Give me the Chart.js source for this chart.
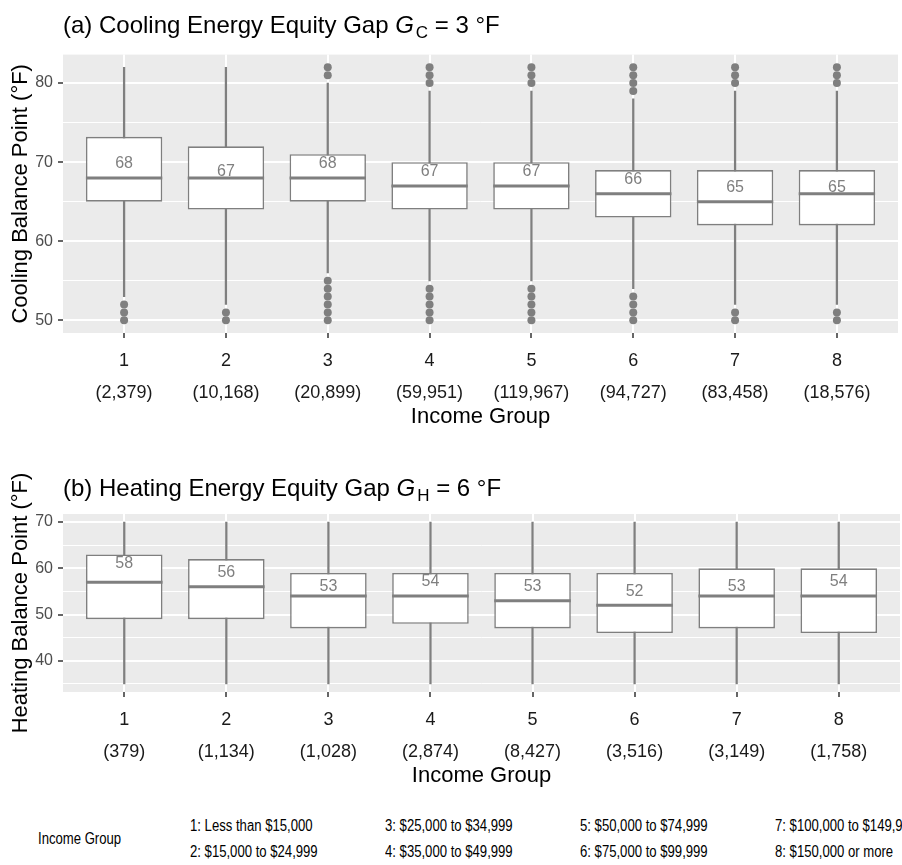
<!DOCTYPE html>
<html>
<head>
<meta charset="utf-8">
<script src="https://cdn.jsdelivr.net/npm/chart.js@4.4.1/dist/chart.umd.min.js"></script>
<style>
  html, body { margin: 0; padding: 0; background: #fff; }
  body { width: 902px; height: 865px; position: relative; overflow: hidden; font-family: "Liberation Sans", Arial, sans-serif; }
  canvas { position: absolute; left: 0; }
  .title { position: absolute; left: 63px; font-size: 24px; line-height: 28px; color: #000; white-space: nowrap; z-index: 2; }
  .title .sub { font-size: 17px; position: relative; top: 5px; margin-left: 2px; }
  .lg { position: absolute; font-size: 16px; line-height: 18px; color: #000; white-space: nowrap; transform: scaleX(0.82); transform-origin: 0 50%; }
</style>
</head>
<body>
<canvas id="cooling" width="902" height="390" style="top:40px"></canvas>
<canvas id="heating" width="902" height="339" style="top:450px"></canvas>
<div class="title" style="top:11px">(a) Cooling Energy Equity Gap <i>G</i><span class="sub">C</span> = 3 °F</div>
<div class="title" style="top:474px">(b) Heating Energy Equity Gap <i>G</i><span class="sub">H</span> = 6 °F</div>
<div id="legend"></div>
<script>
const groups = [1, 2, 3, 4, 5, 6, 7, 8];
const incomeBands = ['Less than $15,000', '$15,000 to $24,999', '$25,000 to $34,999', '$35,000 to $49,999',
  '$50,000 to $74,999', '$75,000 to $99,999', '$100,000 to $149,999', '$150,000 or more'];

// (a) cooling balance point, by income group
const coolCounts = ['(2,379)', '(10,168)', '(20,899)', '(59,951)', '(119,967)', '(94,727)', '(83,458)', '(18,576)'];
const coolLow = [53, 52, 56, 55, 55, 54, 52, 52];
const coolQ1 = [65, 64, 65, 64, 64, 63, 62, 62];
const coolMedian = [68, 68, 68, 67, 67, 66, 65, 66];
const coolQ3 = [73.2, 72, 71, 70, 70, 69, 69, 69];
const coolHigh = [82, 82, 80, 79, 79, 78, 79, 79];
const coolMean = [68, 67, 68, 67, 67, 66, 65, 65];
const coolOutliers = [
  [50, 51, 52],
  [50, 51],
  [50, 51, 52, 53, 54, 55, 81, 82],
  [50, 51, 52, 53, 54, 80, 81, 82],
  [50, 51, 52, 53, 54, 80, 81, 82],
  [50, 51, 52, 53, 79, 80, 81, 82],
  [50, 51, 80, 81, 82],
  [50, 51, 80, 81, 82]
];
const coolTicks = [50, 55, 60, 65, 70, 75, 80];

// (b) heating balance point
const heatCounts = ['(379)', '(1,134)', '(1,028)', '(2,874)', '(8,427)', '(3,516)', '(3,149)', '(1,758)'];
const heatLow = [35, 35, 35, 35, 35, 35, 35, 35];
const heatQ1 = [49, 49, 47, 48, 47, 46, 47, 46];
const heatMedian = [57, 56, 54, 54, 53, 52, 54, 54];
const heatQ3 = [63, 62, 59, 59, 59, 59, 60, 60];
const heatHigh = [70, 70, 70, 70, 70, 70, 70, 70];
const heatMean = [58, 56, 53, 54, 53, 52, 53, 54];
const heatOutliers = [[], [], [], [], [], [], [], []];
const heatTicks = [35, 40, 45, 50, 55, 60, 65, 70];

const GREY = '#7f7f7f';

const panelBackground = {
  id: 'panelBackground',
  beforeDraw(chart) {
    const { ctx, chartArea: a } = chart;
    ctx.save();
    ctx.fillStyle = '#ebebeb';
    ctx.fillRect(a.left, a.top, a.width, a.height);
    ctx.restore();
  }
};

// mean labels go on top of the boxes but under the median line
const meanLabels = {
  id: 'meanLabels',
  afterDatasetDraw(chart, args, opts) {
    if (chart.data.datasets[args.index].label !== 'box') return;
    const { ctx, scales: { x, y } } = chart;
    ctx.save();
    ctx.font = '16px "Liberation Sans", Arial, sans-serif';
    ctx.fillStyle = GREY;
    ctx.textAlign = 'center';
    ctx.textBaseline = 'middle';
    opts.values.forEach((m, i) => {
      ctx.fillText(String(m), x.getPixelForValue(groups[i]), y.getPixelForValue(m) - 14);
    });
    ctx.restore();
  }
};

function drawPanel(id, d) {
  const isMajor = c => c.tick && c.tick.value % 10 === 0;
  return new Chart(document.getElementById(id), {
    type: 'bar',
    data: {
      datasets: [
        {
          type: 'line', label: 'median', order: 2, showLine: false,
          data: groups.map((g, i) => ({ x: g, y: d.median[i] })),
          pointStyle: 'line',
          pointRadius: c => c.chart.scales.x.getPixelForValue(1.375) - c.chart.scales.x.getPixelForValue(1),
          pointBorderColor: GREY, pointBorderWidth: 3
        },
        {
          type: 'line', label: 'outliers', order: 1, showLine: false,
          data: d.outliers.flatMap((vals, i) => vals.map(v => ({ x: groups[i], y: v }))),
          pointRadius: 4, pointBackgroundColor: GREY, pointBorderWidth: 0
        },
        {
          label: 'box', order: 3,
          data: groups.map((g, i) => ({ x: g, y: [d.q1[i], d.q3[i]] })),
          backgroundColor: '#fff', borderColor: GREY, borderWidth: 1.6, borderSkipped: false,
          grouped: false, categoryPercentage: 1, barPercentage: 0.75
        },
        {
          label: 'whisker', order: 4,
          data: groups.map((g, i) => ({ x: g, y: [d.low[i], d.high[i]] })),
          backgroundColor: GREY, grouped: false, barThickness: 1.6
        }
      ]
    },
    options: {
      responsive: false,
      animation: false,
      events: [],
      layout: { padding: { top: d.padTop, right: 2, left: 0, bottom: 0 } },
      plugins: {
        legend: { display: false },
        tooltip: { enabled: false },
        meanLabels: { values: d.mean }
      },
      scales: {
        x: {
          type: 'linear', min: 0.4, max: 8.6, offset: false,
          afterBuildTicks: s => { s.ticks = groups.map(v => ({ value: v })); },
          afterFit: s => { s.height = 97; },
          grid: { offset: false, color: '#fff', lineWidth: 2, tickColor: '#333', tickWidth: 1.5, tickLength: 5 },
          border: { display: false },
          ticks: {
            autoSkip: false, maxRotation: 0, padding: 7.5,
            color: '#1a1a1a', font: { size: 18, lineHeight: 32 / 18 },
            callback: v => [String(v), d.counts[v - 1]]
          },
          title: { display: true, text: 'Income Group', color: '#000', font: { size: 22 }, padding: { top: 0, bottom: 0 } }
        },
        y: {
          type: 'linear', min: d.min, max: d.max,
          afterBuildTicks: s => { s.ticks = d.ticks.map(v => ({ value: v })); },
          afterFit: s => { s.width = 63; },
          grid: {
            color: '#fff', lineWidth: c => isMajor(c) ? 2 : 1,
            tickColor: c => isMajor(c) ? '#333' : 'rgba(0,0,0,0)', tickWidth: 1.5, tickLength: 5
          },
          border: { display: false },
          ticks: { padding: 5, color: '#4d4d4d', font: { size: 16 }, callback: v => v % 10 === 0 ? String(v) : '' },
          title: { display: true, text: d.yTitle, color: '#000', font: { size: 22 }, padding: { top: 8, bottom: 0 } }
        }
      }
    },
    plugins: [panelBackground, meanLabels]
  });
}

Chart.defaults.font.family = '"Liberation Sans", Arial, sans-serif';

drawPanel('cooling', {
  counts: coolCounts, low: coolLow, q1: coolQ1, median: coolMedian, q3: coolQ3, high: coolHigh,
  mean: coolMean, outliers: coolOutliers, ticks: coolTicks, min: 48.4, max: 83.6,
  yTitle: 'Cooling Balance Point (°F)', padTop: 12
});
drawPanel('heating', {
  counts: heatCounts, low: heatLow, q1: heatQ1, median: heatMedian, q3: heatQ3, high: heatHigh,
  mean: heatMean, outliers: heatOutliers, ticks: heatTicks, min: 33.25, max: 71.75,
  yTitle: 'Heating Balance Point (°F)', padTop: 64
});

// income group key under the panels
const legend = document.getElementById('legend');
const lgTitle = document.createElement('div');
lgTitle.className = 'lg';
lgTitle.style.left = '38px';
lgTitle.style.top = '830px';
lgTitle.textContent = 'Income Group';
legend.appendChild(lgTitle);
incomeBands.forEach((band, i) => {
  const el = document.createElement('div');
  el.className = 'lg';
  el.style.left = (190 + Math.floor(i / 2) * 195) + 'px';
  el.style.top = (i % 2 === 0 ? 817 : 843) + 'px';
  el.textContent = (i + 1) + ': ' + band;
  legend.appendChild(el);
});
</script>
</body>
</html>
